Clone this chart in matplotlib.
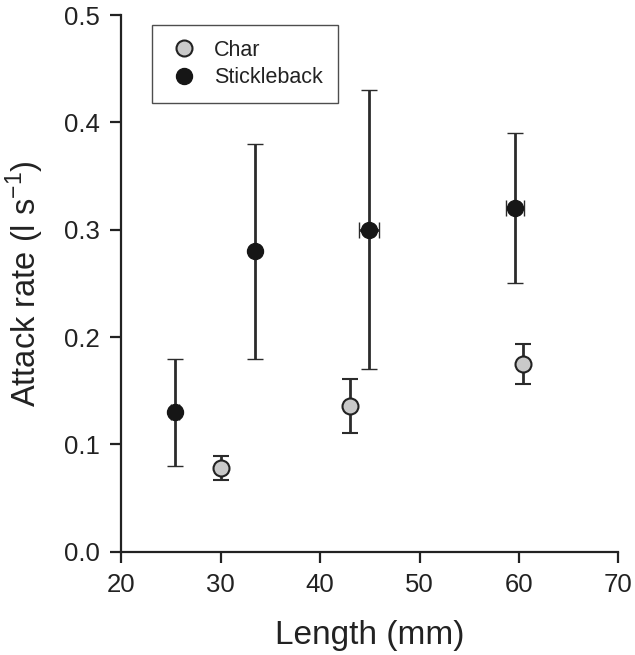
import matplotlib
matplotlib.use("Agg")
import matplotlib.pyplot as plt
from matplotlib.lines import Line2D

plt.rcParams['font.family'] = ['Liberation Sans', 'DejaVu Sans']
plt.rcParams['mathtext.fontset'] = 'custom'
plt.rcParams['mathtext.rm'] = 'Liberation Sans'

# data
char_len = [30.0, 43.0, 60.4]
char_rate = [0.078, 0.136, 0.175]
char_err_lo = [0.011, 0.025, 0.019]
char_err_hi = [0.011, 0.025, 0.019]

stick_len = [25.4, 33.5, 44.9, 59.6]
stick_len_err = [0.4, 0.0, 1.0, 0.9]
stick_rate = [0.13, 0.28, 0.30, 0.32]
stick_err_lo = [0.05, 0.10, 0.13, 0.07]
stick_err_hi = [0.05, 0.10, 0.13, 0.07]

xticks = [20, 30, 40, 50, 60, 70]
yticks = [0.0, 0.1, 0.2, 0.3, 0.4, 0.5]

fig = plt.figure(figsize=(6.35, 6.55), dpi=100)
ax = fig.add_axes([0.1906, 0.1577, 0.7834, 0.8191])

err_kw = dict(ecolor='#2b2b2b', elinewidth=2.0, capsize=5.5, capthick=2.0, linestyle='none')

# stickleback points with x and y error bars
ax.errorbar(stick_len, stick_rate, xerr=stick_len_err, yerr=[stick_err_lo, stick_err_hi],
            marker='o', markersize=11.5, markerfacecolor='#161616', markeredgecolor='#161616',
            markeredgewidth=1.0, label='Stickleback', zorder=3, **err_kw)
# char points, y error bars only
ax.errorbar(char_len, char_rate, yerr=[char_err_lo, char_err_hi],
            marker='o', markersize=11.5, markerfacecolor='#c9c9c9', markeredgecolor='#222222',
            markeredgewidth=1.5, label='Char', zorder=3, **err_kw)

ax.set_xlim(20, 70)
ax.set_ylim(0.0, 0.5)
ax.set_xticks(xticks)
ax.set_yticks(yticks)
ax.set_yticklabels([f"{v:.1f}" for v in yticks])

for s in ['top', 'right']:
    ax.spines[s].set_visible(False)
for s in ['left', 'bottom']:
    ax.spines[s].set_linewidth(1.6)
    ax.spines[s].set_color('#222222')
ax.tick_params(direction='out', length=8, width=1.6, color='#222222', labelsize=18.5,
               labelcolor='#222222', pad=7)

ax.set_xlabel('Length (mm)', fontsize=24, color='#222222', labelpad=17)
ax.set_ylabel(r'Attack rate (l s$^{\mathregular{-1}}$)', fontsize=23.5, color='#222222', labelpad=13)

h_char = Line2D([], [], marker='o', linestyle='none', markersize=11.5,
                markerfacecolor='#c9c9c9', markeredgecolor='#222222', markeredgewidth=1.5)
h_stick = Line2D([], [], marker='o', linestyle='none', markersize=11.5,
                 markerfacecolor='#161616', markeredgecolor='#161616')
leg = ax.legend([h_char, h_stick], ['Char', 'Stickleback'], loc='upper left',
                bbox_to_anchor=(0.062, 0.982), borderaxespad=0, fontsize=15.5,
                frameon=True, fancybox=False, edgecolor='#222222',
                borderpad=0.7, handletextpad=0.6, labelspacing=0.3, handlelength=1.6)
leg.get_frame().set_linewidth(1.0)
for t in leg.get_texts():
    t.set_color('#222222')

fig.savefig('out.png', dpi=100)
